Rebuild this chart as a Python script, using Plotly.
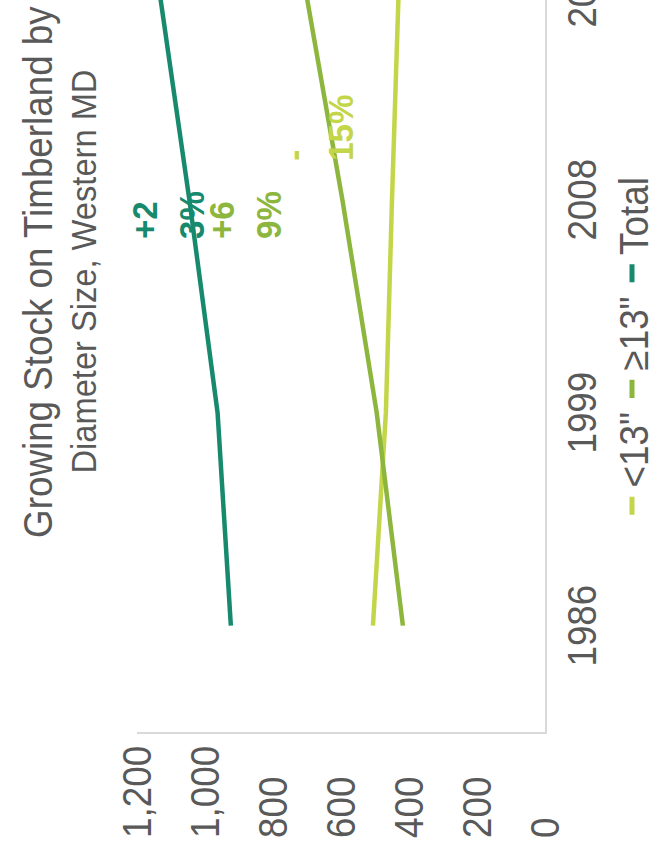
import plotly.graph_objects as go

# ---- data -------------------------------------------------------------
years = ["1986", "1999", "2008", "2018"]
lt13 = [506, 468, 450, 430]        # trees < 13" diameter
ge13 = [418, 495, 596, 706]        # trees >= 13" diameter
total = [924, 963, 1046, 1136]     # all growing stock
series_names = ['<13"', '≥13"', "Total"]
value_ticks = [0, 200, 400, 600, 800, 1000, 1200]
value_tick_text = ["0", "200", "400", "600", "800", "1,000", "1,200"]

# ---- styling ----------------------------------------------------------
C_LT = "#C3D64A"
C_GE = "#8DB63E"
C_TOT = "#178A6E"
GREY = "#595959"
FONT = "Liberation Sans, Arial, sans-serif"

# The page is drawn landscape, then turned a quarter turn to portrait.
SQ = 0.92                   # horizontal squeeze applied with the turn
W, H = 1090, 720
L, R, T = 139, 25, 137
B = H - 545
PW, PH = W - L - R, H - T - B


def px(u):
    """page position along the turned width -> paper x"""
    return (u / SQ - L) / PW


def py(v):
    """page position along the turned height -> paper y"""
    return (H - B - v) / PH


fig = go.Figure()
for name, vals, col in zip(series_names, [lt13, ge13, total], [C_LT, C_GE, C_TOT]):
    fig.add_trace(go.Scatter(x=years, y=vals, mode="lines", name=name,
                             line=dict(color=col, width=4.5), showlegend=False))
    # short dash used as legend key
    fig.add_trace(go.Scatter(x=[None], y=[None], mode="markers", name=name,
                             marker=dict(symbol="line-ew", size=14, color=col,
                                         line=dict(color=col, width=6))))


# change labels (first year -> last year), wrapped onto two lines
def pct_label(vals, brk):
    s = f"{(vals[-1] / vals[0] - 1) * 100:+.0f}%"
    return s[:brk] + "<br>" + s[brk:]


labels = [
    (pct_label(total, 2), C_TOT, 619, 168),
    (pct_label(ge13, 2), C_GE, 619, 245),
    (pct_label(lt13, 1), C_LT, 697, 317),
]
ann = []
for txt, col, u, v in labels:
    ann.append(dict(text=f"<b>{txt}</b>", x=px(u), y=py(v), xref="paper", yref="paper",
                    xanchor="left", yanchor="middle", align="left", showarrow=False,
                    font=dict(family=FONT, size=36, color=col)))

# value axis labels, left aligned
for val, txt in zip(value_ticks, value_tick_text):
    ann.append(dict(text=txt, x=px(20), y=val, xref="paper", yref="y",
                    xanchor="left", yanchor="middle", showarrow=False,
                    font=dict(family=FONT, size=40, color=GREY)))

# title, two centred lines
for line, v, fs in [("Growing Stock on Timberland by", 38, 40),
                    ("Diameter Size, Western MD", 84, 35.5)]:
    ann.append(dict(text=line, x=px(588), y=py(v), xref="paper", yref="paper",
                    xanchor="center", yanchor="middle", showarrow=False,
                    font=dict(family=FONT, size=fs, color=GREY)))

fig.update_layout(
    width=W, height=H,
    margin=dict(l=L, r=R, t=T, b=B),
    paper_bgcolor="white", plot_bgcolor="white",
    font=dict(family=FONT, color=GREY),
    annotations=ann,
    legend=dict(orientation="h", x=px(512), xanchor="center", y=py(632), yanchor="middle",
                font=dict(family=FONT, size=40, color=GREY), itemwidth=30,
                bgcolor="rgba(0,0,0,0)"),
    xaxis=dict(type="category", range=[-0.5, 3.5], showgrid=False, zeroline=False,
               showline=True, linecolor="#D9D9D9", linewidth=1.5,
               ticks="outside", ticklen=1, tickcolor="rgba(0,0,0,0)",
               tickfont=dict(family=FONT, size=40, color=GREY)),
    yaxis=dict(range=[0, 1200], showgrid=False, zeroline=False,
               showline=True, linecolor="#D9D9D9", linewidth=1.5,
               tickvals=value_ticks, showticklabels=False),
)

turn = """
var gd = document.getElementById('{plot_id}');
document.documentElement.style.overflow = 'hidden';
document.body.style.margin = '0';
document.body.style.overflow = 'hidden';
gd.style.position = 'absolute';
gd.style.left = '0px';
gd.style.top = '0px';
gd.style.transformOrigin = '0 0';
gd.style.transform = 'translate(0px, 860px) rotate(-90deg) scale(%s, 1)';
""" % SQ

fig.write_html("out.html", include_plotlyjs=True, full_html=True,
               default_width=f"{W}px", default_height=f"{H}px",
               config={"displayModeBar": False, "responsive": False},
               post_script=turn)
